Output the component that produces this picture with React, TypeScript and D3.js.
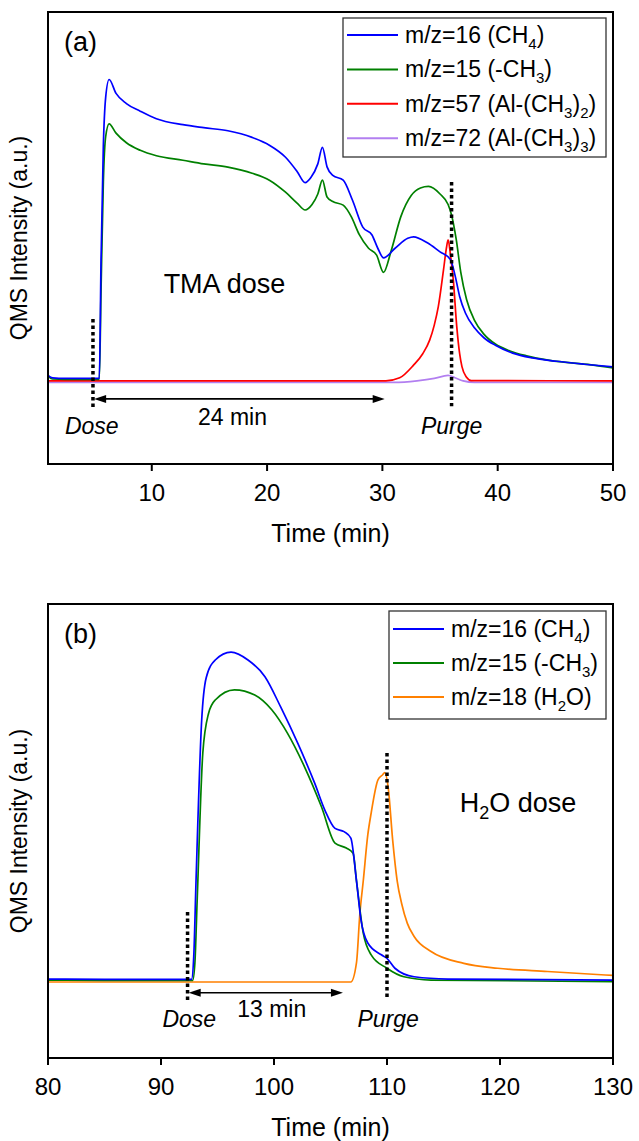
import * as d3 from "d3";
import React from "react";

type Pt = [number, number];

const FONT = "'Liberation Sans', Arial, Helvetica, sans-serif";
const WIDTH = 639;
const HEIGHT = 1141;

// intensities are in a.u.: 0 = flat baseline, 100 = CH4 maximum of each panel

// (a) TMA dose
const tmaTicks = [10, 20, 30, 40, 50];
const tmaCH4: Pt[] = [
  [1, 1.8], [1.4, 1.0], [2.5, 0.8], [5.45, 0.8], [5.6, 40], [5.8, 78], [6.0, 94],
  [6.3, 100], [6.9, 95.4], [7.8, 92], [9, 89.5], [10.4, 87], [12.7, 85], [14.5, 84],
  [16.6, 83], [18.7, 80.8], [20.2, 78.2], [21.6, 74.2], [22.6, 69.5], [23.3, 65.8],
  [23.8, 67.5], [24.4, 72], [24.8, 77.5], [25.2, 71], [25.7, 68.2], [26.6, 66.6],
  [27.4, 60], [28.3, 51], [29.1, 48.4], [29.6, 44], [30.1, 40.8], [31.1, 44],
  [32.2, 47.3], [32.7, 47.8], [33.9, 45.8], [35, 42.8], [35.9, 40.3], [36.3, 35],
  [36.7, 28], [37.2, 22.5], [38.0, 17.5], [38.8, 14.3], [39.8, 11.8], [41.3, 9.2],
  [43, 7.6], [45.1, 6.5], [47.5, 5.5], [50, 4.6],
];
const tmaCH3: Pt[] = [
  [1, 1.6], [1.4, 0.6], [2.5, 0.5], [5.45, 0.5], [5.6, 30], [5.8, 66], [6.0, 81],
  [6.3, 85.3], [6.9, 82.2], [7.8, 79], [9, 76.5], [10.4, 74.7], [12.7, 73.2], [14.5, 72],
  [16.6, 70.9], [18.7, 68.9], [20.2, 66.6], [21.6, 62.6], [22.6, 59], [23.3, 56.7],
  [23.9, 58.5], [24.4, 62], [24.8, 66.6], [25.2, 61], [25.7, 59.5], [26.6, 58.3],
  [27.3, 54.5], [28, 48.5], [28.8, 44], [29.5, 41.7], [30.1, 36], [30.75, 43],
  [31.6, 54.5], [32.5, 61.5], [33.3, 64], [34, 64.5], [35, 62], [35.7, 58.5],
  [36.0, 55], [36.4, 47], [36.8, 36], [37.3, 27], [38.0, 20], [38.8, 15.5],
  [39.8, 12.2], [41, 10], [42.5, 8.3], [44.5, 6.8], [48.1, 5.3], [50, 4.3],
];
const tmaAlMe2: Pt[] = [
  [1, 0], [30.3, 0], [31.5, 1], [32.7, 5.2], [33.5, 9], [34.1, 13.5], [34.5, 18.5],
  [34.85, 24.6], [35.3, 36.8], [35.55, 44], [35.7, 46.8], [35.9, 42], [36.15, 33.5],
  [36.45, 18], [36.7, 9], [36.9, 4.7], [37.3, 1.2], [37.7, 0.1], [50, 0],
];
const tmaAlMe3: Pt[] = [
  [1, -0.5], [31, -0.5], [33, 0], [34.5, 0.8], [35.7, 1.8], [36.3, 1.0], [37, 0],
  [38, -0.5], [50, -0.5],
];

// (b) H2O dose
const waterTicks = [80, 90, 100, 110, 120, 130];
const waterCH4: Pt[] = [
  [80, 1.0], [85, 0.9], [92.7, 0.9], [92.9, 8], [93.1, 31], [93.6, 80], [94.0, 93],
  [94.8, 98.4], [96.2, 100.8], [97.7, 98.4], [99.2, 93.3], [100.6, 84], [102.1, 73],
  [103.6, 60.8], [104.5, 52.6], [105.4, 47], [106.2, 46], [106.8, 44], [107.3, 31],
  [107.7, 19], [108.3, 12], [109.5, 8.4], [110, 7.3], [110.7, 4.3], [112.4, 1.7],
  [115.4, 1.0], [130, 0.7],
];
const waterCH3: Pt[] = [
  [80, 0.7], [85, 0.6], [92.8, 0.6], [93.0, 6], [93.2, 25], [93.7, 70], [94.2, 82],
  [94.8, 86.2], [96.5, 89.3], [98.3, 87.7], [99.8, 83.2], [101.2, 76], [102.7, 65.8],
  [104.2, 53.6], [105.4, 42.5], [106.4, 41], [107.0, 39.4], [107.3, 31], [107.9, 15],
  [108.6, 8.4], [110, 4.3], [111.5, 1.7], [113.9, 0.7], [130, 0.2],
];
const waterH2O: Pt[] = [
  [80, 0.1], [106.8, 0.1], [107.3, 6], [107.6, 21], [107.9, 31], [108.3, 45],
  [108.6, 51.7], [109.2, 61.8], [109.6, 63.3], [109.8, 64], [110.1, 59.7], [110.5, 43.5],
  [110.9, 31], [111.3, 24], [111.8, 18], [112.4, 14], [113.9, 9.4], [116.8, 5.8],
  [119.8, 4.3], [124.2, 3.3], [130, 2.1],
];

// legend labels: odd parts are subscripts
const tmaLegend = [
  { parts: ["m/z=16 (CH", "4", ")"], color: "#0000ff" },
  { parts: ["m/z=15 (-CH", "3", ")"], color: "#008000" },
  { parts: ["m/z=57 (Al-(CH", "3", ")", "2", ")"], color: "#ff0000" },
  { parts: ["m/z=72 (Al-(CH", "3", ")", "3", ")"], color: "#b27ff0" },
];
const waterLegend = [
  { parts: ["m/z=16 (CH", "4", ")"], color: "#0000ff" },
  { parts: ["m/z=15 (-CH", "3", ")"], color: "#008000" },
  { parts: ["m/z=18 (H", "2", "O)"], color: "#ff8000" },
];

// annotations, in (time, intensity)
const tmaNotes = {
  dose: [4.9, 20.5, -8.7],
  purge: [36.0, 66, -8.4],
  arrow: [5.0, 30.2, -6.0],
  span: { text: ["24 min"], at: [17.0, -14.5] },
  doseLabel: [4.8, -17.8],
  purgeLabel: [36.0, -17.8],
  step: { text: ["TMA dose"], at: [16.3, 29.2] },
};
const waterNotes = {
  dose: [92.35, 21.5, -5.4],
  purge: [110.0, 70, -5.4],
  arrow: [92.45, 106.1, -3.2],
  span: { text: ["13 min"], at: [99.8, -10.5] },
  doseLabel: [92.5, -13.5],
  purgeLabel: [110.1, -13.5],
  step: { text: ["H", "2", "O dose"], at: [121.6, 52.1] },
};

function Rich({ parts, sub, shift }: { parts: string[]; sub: number; shift: number }) {
  return (
    <>
      {parts.map((p, i) => {
        if (i % 2 === 1)
          return (
            <tspan key={i} dy={shift} fontSize={sub}>
              {p}
            </tspan>
          );
        return (
          <tspan key={i} dy={i > 0 ? -shift : 0}>
            {p}
          </tspan>
        );
      })}
    </>
  );
}

function Panel({
  top,
  bottom,
  xDomain,
  yDomain,
  ticks,
  series,
  legend,
  legendBox,
  tag,
  notes,
}) {
  const left = 48;
  const right = 613;
  const x = d3.scaleLinear().domain(xDomain).range([left, right]);
  const y = d3.scaleLinear().domain(yDomain).range([bottom, top]);
  const line = d3
    .line<Pt>()
    .x((d) => x(d[0]))
    .y((d) => y(d[1]))
    .curve(d3.curveMonotoneX);

  const [a0, a1, ay] = notes.arrow;
  const ax0 = x(a0);
  const ax1 = x(a1);
  const ayp = y(ay);
  const head = 12;
  const half = 4;

  return (
    <g fontFamily={FONT}>
      <defs>
        <clipPath id={`clip-${top}`}>
          <rect x={left} y={top} width={right - left} height={bottom - top} />
        </clipPath>
      </defs>
      <g clipPath={`url(#clip-${top})`}>
        {series.map((s, i) => (
          <path key={i} d={line(s.data)} fill="none" stroke={s.color} strokeWidth={1.7} />
        ))}
      </g>

      {[notes.dose, notes.purge].map(([t, y0, y1], i) => (
        <line
          key={i}
          x1={x(t)}
          x2={x(t)}
          y1={y(y0)}
          y2={y(y1)}
          stroke="#000"
          strokeWidth={3.5}
          strokeDasharray="3.5 3"
        />
      ))}

      <line x1={ax0 + 4} x2={ax1 - 4} y1={ayp} y2={ayp} stroke="#000" strokeWidth={1.6} />
      <path
        d={`M${ax0},${ayp}L${ax0 + head},${ayp - half}L${ax0 + head},${ayp + half}Z`}
        fill="#000"
      />
      <path
        d={`M${ax1},${ayp}L${ax1 - head},${ayp - half}L${ax1 - head},${ayp + half}Z`}
        fill="#000"
      />

      <text x={x(notes.span.at[0])} y={y(notes.span.at[1])} fontSize={23} textAnchor="middle">
        {notes.span.text[0]}
      </text>
      <text
        x={x(notes.doseLabel[0])}
        y={y(notes.doseLabel[1])}
        fontSize={23}
        fontStyle="italic"
        textAnchor="middle"
      >
        Dose
      </text>
      <text
        x={x(notes.purgeLabel[0])}
        y={y(notes.purgeLabel[1])}
        fontSize={23}
        fontStyle="italic"
        textAnchor="middle"
      >
        Purge
      </text>
      <text x={x(notes.step.at[0])} y={y(notes.step.at[1])} fontSize={27} textAnchor="middle">
        <Rich parts={notes.step.text} sub={18} shift={7} />
      </text>

      <text x={left + 16} y={top + 39} fontSize={27}>
        {tag}
      </text>

      <rect
        x={legendBox.x}
        y={legendBox.y}
        width={legendBox.w}
        height={legendBox.h}
        fill="#fff"
        stroke="#333"
        strokeWidth={1.3}
      />
      {legend.map((l, i) => {
        const cy = legendBox.row0 + i * legendBox.step;
        return (
          <g key={i}>
            <line
              x1={legendBox.x + 4}
              x2={legendBox.x + 55}
              y1={cy}
              y2={cy}
              stroke={l.color}
              strokeWidth={2}
            />
            <text x={legendBox.x + 62} y={cy + 8} fontSize={23}>
              <Rich parts={l.parts} sub={15} shift={6} />
            </text>
          </g>
        );
      })}

      <rect
        x={left}
        y={top}
        width={right - left}
        height={bottom - top}
        fill="none"
        stroke="#000"
        strokeWidth={2}
      />
      {ticks.map((t) => (
        <g key={t} transform={`translate(${x(t)},${bottom})`}>
          <line y1={0} y2={7} stroke="#000" strokeWidth={2} />
          <text y={37} fontSize={24} textAnchor="middle">
            {t}
          </text>
        </g>
      ))}
      <text x={(left + right) / 2} y={bottom + 78} fontSize={25} textAnchor="middle">
        Time (min)
      </text>
      <text
        transform={`translate(27,${(top + bottom) / 2}) rotate(-90)`}
        fontSize={23}
        textAnchor="middle"
      >
        QMS Intensity (a.u.)
      </text>
    </g>
  );
}

export default function App() {
  return (
    <svg
      width={WIDTH}
      height={HEIGHT}
      viewBox={`0 0 ${WIDTH} ${HEIGHT}`}
      style={{ position: "absolute", left: 0, top: 0, background: "#fff" }}
    >
      <rect width={WIDTH} height={HEIGHT} fill="#fff" />
      <Panel
        top={12}
        bottom={464}
        xDomain={[1, 50]}
        yDomain={[-27.6, 122.4]}
        ticks={tmaTicks}
        series={[
          { data: tmaAlMe3, color: tmaLegend[3].color },
          { data: tmaAlMe2, color: tmaLegend[2].color },
          { data: tmaCH3, color: tmaLegend[1].color },
          { data: tmaCH4, color: tmaLegend[0].color },
        ]}
        legend={tmaLegend}
        legendBox={{ x: 343, y: 18, w: 263, h: 139, row0: 35, step: 34.4 }}
        tag="(a)"
        notes={tmaNotes}
      />
      <Panel
        top={604}
        bottom={1058}
        xDomain={[80, 130]}
        yDomain={[-23.1, 115.5]}
        ticks={waterTicks}
        series={[
          { data: waterH2O, color: waterLegend[2].color },
          { data: waterCH3, color: waterLegend[1].color },
          { data: waterCH4, color: waterLegend[0].color },
        ]}
        legend={waterLegend}
        legendBox={{ x: 389, y: 611, w: 217, h: 108, row0: 629, step: 34 }}
        tag="(b)"
        notes={waterNotes}
      />
    </svg>
  );
}
